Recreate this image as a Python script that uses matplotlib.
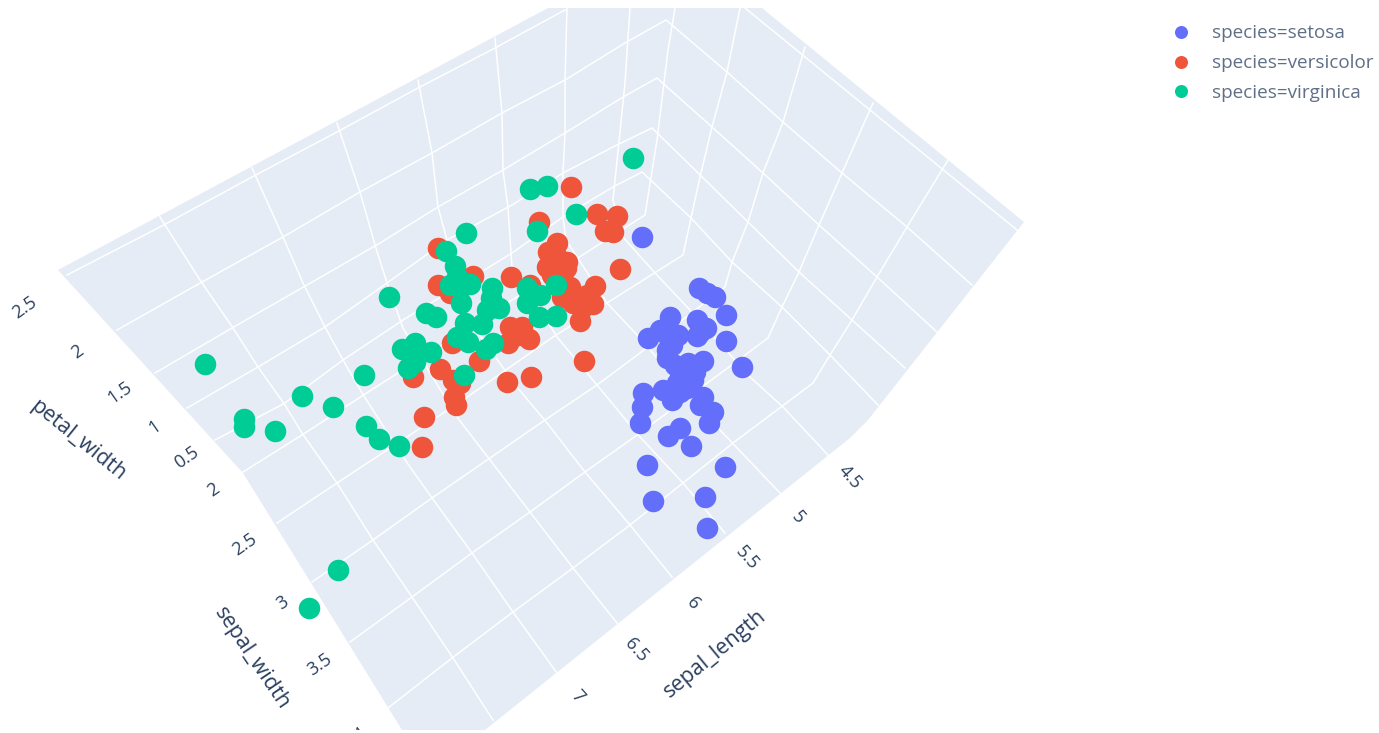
import matplotlib
matplotlib.use("Agg")
import matplotlib.pyplot as plt

plt.rcParams['font.family'] = ['Open Sans', 'DejaVu Sans']

setosa_x = [699, 715, 707, 726, 726, 742, 697, 706, 697, 670, 660, 648, 678, 667, 667, 703, 688, 680, 693, 677,
            663, 672, 687, 703, 643, 642, 640, 713, 709, 680, 668, 691, 647, 725, 653, 705, 707, 642,
            685, 683, 690, 675, 695, 700, 683, 680, 685, 665, 672, 700]
setosa_y = [288, 297, 293, 315, 341, 367, 320, 328, 336, 317, 330, 338, 335, 350, 358, 361, 363, 373, 380, 383,
            390, 400, 388, 397, 393, 407, 423, 412, 423, 428, 436, 446, 465, 467, 501, 497, 528, 237,
            375, 368, 372, 365, 372, 405, 385, 392, 380, 333, 345, 332]

versicolor_x = [571, 539, 597, 617, 605, 613, 620, 557, 548, 567, 547, 557, 563, 553, 438, 438, 473, 511, 530, 595,
                580, 593, 580, 573, 562, 450, 510, 522, 508, 529, 452, 479, 440, 413, 453, 460, 454, 456, 424, 422,
                507, 531, 584, 583, 570, 558, 552, 518, 587, 566]
versicolor_y = [187, 222, 214, 216, 231, 232, 269, 243, 252, 262, 267, 257, 272, 270, 248, 285, 276, 277, 285, 286,
                297, 304, 321, 303, 297, 293, 327, 327, 343, 339, 343, 361, 369, 377, 380, 383, 397, 405, 417, 447,
                382, 377, 361, 307, 287, 262, 275, 335, 295, 268]

virginica_x = [633, 530, 547, 576, 537, 466, 446, 455, 457, 450, 470, 461, 461, 492, 491, 499, 487, 389, 426, 436,
               465, 482, 457, 468, 493, 486, 402, 415, 431, 408, 415, 464, 364, 527, 527, 540, 556, 539, 556, 366,
               379, 399, 205, 244, 244, 275, 302, 333, 338, 309]
virginica_y = [158, 189, 186, 214, 231, 233, 251, 266, 277, 285, 284, 287, 303, 288, 298, 308, 310, 297, 313, 317,
               323, 324, 337, 342, 343, 349, 349, 343, 352, 368, 362, 375, 375, 288, 303, 295, 285, 317, 316, 426,
               439, 446, 364, 419, 427, 431, 396, 407, 570, 608]

legend_labels = ['species=setosa', 'species=versicolor', 'species=virginica']
colors = ['#636EFA', '#EF553B', '#00CC96']

pane_outline = [(58, 270), (548, 8), (762, 8), (1024, 222), (868, 420), (850, 438), (485, 730), (402, 730), (243, 473)]

# Lines running from the left wall down across the floor (one for each sepal_length)
length_lines = [
    [(160, 217), (200, 280), (233, 328), (258, 367), (285, 405), (302, 433), (337, 483), (373, 540), (412, 597), (453, 658), (493, 720)],
    [(252, 168), (283, 237), (303, 283), (325, 327), (343, 360), (362, 393), (403, 457), (432, 498), (472, 553), (513, 612), (557, 673)],
    [(337, 123), (360, 192), (375, 245), (387, 283), (403, 328), (413, 345), (457, 417), (490, 460), (530, 512), (573, 568), (617, 623)],
    [(418, 80), (432, 153), (438, 207), (447, 240), (452, 293), (465, 315), (517, 387), (547, 423), (585, 472), (630, 525), (672, 577)],
    [(495, 38), (502, 113), (503, 170), (508, 208), (512, 267), (522, 280), (557, 337), (597, 385), (640, 437), (683, 483), (725, 533)],
    [(567, 8), (565, 80), (565, 133), (563, 173), (563, 217), (566, 240), (607, 303), (640, 338), (680, 385), (720, 430), (780, 493)],
    [(630, 8), (625, 83), (613, 200), (623, 237), (655, 273), (690, 310), (750, 377), (783, 407), (828, 455)],
]

# Lines running up the floor and then up the right wall (one for each sepal_width)
width_lines = [
    [(243, 472), (302, 435), (362, 396), (645, 215), (657, 140), (668, 50), (675, 8)],
    [(277, 523), (337, 483), (463, 400), (553, 337), (683, 255), (700, 177), (712, 127), (727, 72), (740, 8)],
    [(312, 582), (373, 540), (432, 498), (490, 458), (545, 420), (597, 385), (640, 353), (725, 287), (732, 262), (748, 222), (763, 173), (783, 122), (805, 47)],
    [(350, 642), (412, 597), (472, 553), (530, 512), (585, 472), (640, 433), (768, 338), (782, 307), (799, 272), (819, 225), (842, 173), (873, 103)],
    [(388, 708), (452, 658), (513, 612), (573, 568), (630, 525), (683, 483), (733, 443), (813, 383), (830, 355), (852, 320), (877, 277), (907, 227), (948, 160)],
]

# Lines across the left wall and the right wall (one for each petal_width)
petal_lines = [
    [(67, 275), (160, 227), (252, 177), (337, 132), (418, 88), (495, 48), (565, 10)],
    [(745, 8), (1017, 230)],
    [(117, 330), (202, 282), (283, 237), (360, 192), (432, 153), (502, 113), (565, 80), (625, 43), (666, 20), (727, 72), (783, 122), (842, 173), (907, 227), (972, 285)],
    [(155, 373), (232, 328), (307, 285), (380, 243), (438, 207), (503, 170), (565, 133), (623, 97), (657, 78), (712, 127), (763, 173), (819, 225), (877, 277), (937, 332)],
    [(187, 408), (258, 367), (325, 327), (387, 283), (447, 240), (512, 205), (563, 173), (613, 147), (652, 128), (692, 167), (748, 222), (799, 272), (852, 320), (905, 368)],
    [(215, 440), (285, 403), (343, 360), (403, 320), (447, 293), (512, 253), (563, 217), (613, 187), (642, 172), (691, 218), (732, 262), (782, 307), (830, 355), (878, 405)],
]

petal_ticks = ['2.5', '2', '1.5', '1', '0.5']
petal_tick_x = [25, 77, 120, 155, 187]
petal_tick_y = [308, 352, 393, 427, 458]
width_ticks = ['2', '2.5', '3', '3.5', '4']
width_tick_x = [213, 245, 283, 320, 360]
width_tick_y = [490, 545, 603, 665, 735]
length_ticks = ['4.5', '5', '5.5', '6', '6.5', '7']
length_tick_x = [850, 798, 747, 693, 636, 577]
length_tick_y = [477, 517, 558, 603, 650, 697]

fig = plt.figure(figsize=(13.79, 7.33), dpi=100)
ax = fig.add_axes([0, 0, 1, 1])
ax.set_xlim(0, 1379)
ax.set_ylim(733, 0)
ax.axis('off')

ax.fill([p[0] for p in pane_outline], [p[1] for p in pane_outline], color='#E5ECF6', lw=0, zorder=1)

# Gridlines
for line in length_lines + width_lines + petal_lines:
    ax.plot([p[0] for p in line], [p[1] for p in line], color='white', lw=1.1, zorder=2, solid_joinstyle='round')

# Points
ax.scatter(setosa_x, setosa_y, s=240, color=colors[0], lw=0, zorder=3)
ax.scatter(versicolor_x, versicolor_y, s=240, color=colors[1], lw=0, zorder=4)
ax.scatter(virginica_x, virginica_y, s=240, color=colors[2], lw=0, zorder=5)

# Tick labels and axis titles
tick_color = '#2a3f5f'
for label, x, y in zip(petal_ticks, petal_tick_x, petal_tick_y):
    ax.text(x, y, label, rotation=35, ha='center', va='center', fontsize=13, color=tick_color, zorder=6)
for label, x, y in zip(width_ticks, width_tick_x, width_tick_y):
    ax.text(x, y, label, rotation=35, ha='center', va='center', fontsize=13, color=tick_color, zorder=6)
for label, x, y in zip(length_ticks, length_tick_x, length_tick_y):
    ax.text(x, y, label, rotation=-48, ha='center', va='center', fontsize=13, color=tick_color, zorder=6)

ax.text(78, 440, 'petal_width', rotation=-39, ha='center', va='center', fontsize=15.5, color=tick_color, zorder=6)
ax.text(252, 658, 'sepal_width', rotation=-56, ha='center', va='center', fontsize=15.5, color=tick_color, zorder=6)
ax.text(715, 654, 'sepal_length', rotation=39.5, ha='center', va='center', fontsize=15.5, color=tick_color, zorder=6)

# Strip below the scene hides the part of the last tick label
ax.fill([0, 1379, 1379, 0], [730, 730, 733, 733], color='white', lw=0, zorder=7)

# Legend
for i in range(3):
    y = 32 + i * 29.5
    ax.scatter([1181], [y], s=88, color=colors[i], lw=0, zorder=6)
    ax.text(1212, y + 1.5, legend_labels[i], ha='left', va='center', fontsize=13.6, color='#5f6f87', zorder=6)

fig.savefig('out.png', dpi=100)
